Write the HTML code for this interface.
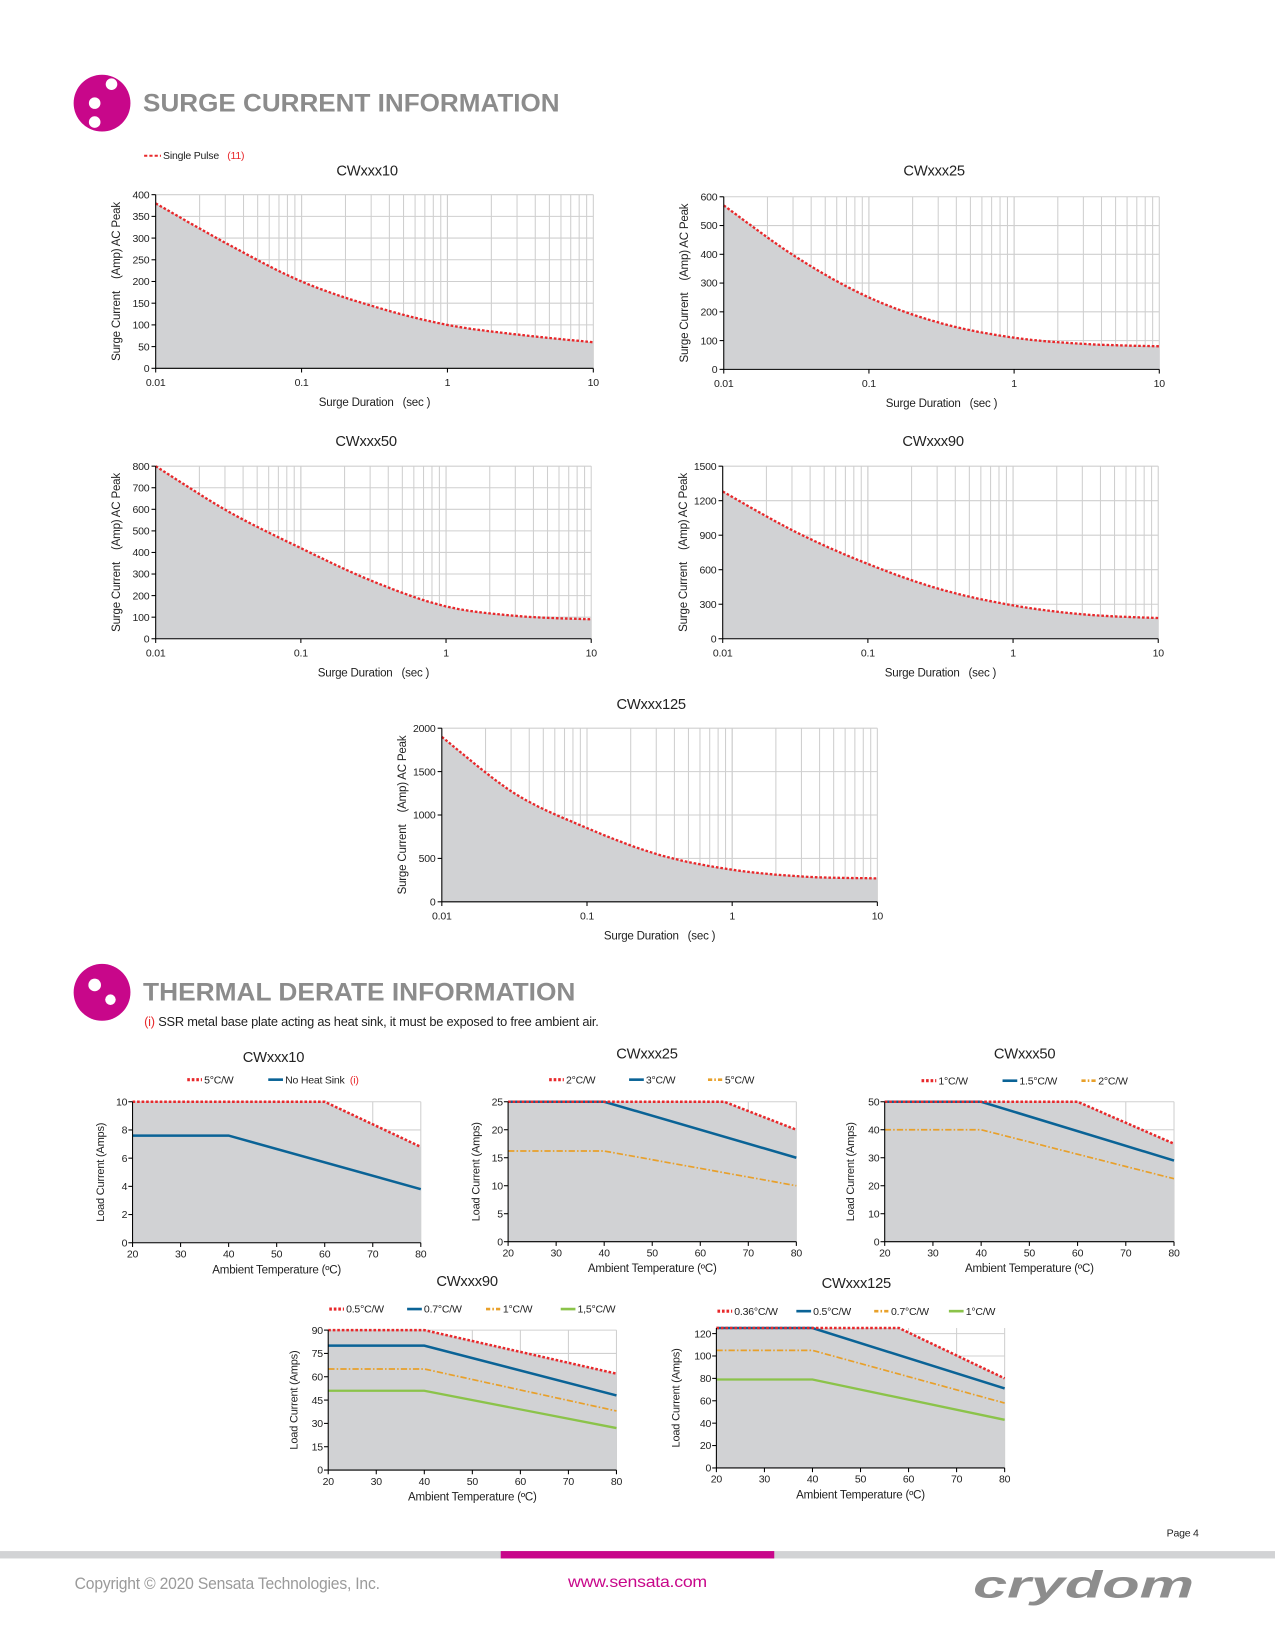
<!DOCTYPE html>
<html><head><meta charset="utf-8"><style>
html,body{margin:0;padding:0;background:#fff;}
svg{display:block;}
text{font-family:"Liberation Sans Narrow","Liberation Sans",sans-serif;letter-spacing:-0.2px;}
</style></head><body>
<svg id="s" width="1275" height="1650" viewBox="0 0 1212 1568" preserveAspectRatio="none" xmlns="http://www.w3.org/2000/svg">
<rect width="1212" height="1568" fill="#fff"/>
<circle cx="97" cy="98" r="27" fill="#c8078a"/>
<circle cx="106" cy="80" r="5.5" fill="#fff"/><circle cx="90" cy="98" r="5.5" fill="#fff"/><circle cx="90" cy="116" r="5.5" fill="#fff"/>
<text x="136" y="106" font-size="24" font-weight="bold" fill="#8c8c8c" style="font-family:'Liberation Sans',sans-serif;letter-spacing:0" textLength="396" lengthAdjust="spacingAndGlyphs">SURGE CURRENT INFORMATION</text>
<line x1="137" y1="148" x2="153" y2="148" stroke="#e8282b" stroke-width="2" stroke-dasharray="3,2"/>
<text x="155" y="151" font-size="10" fill="#222">Single Pulse</text><text x="216" y="151" font-size="10" fill="#e8282b">(11)</text>

<circle cx="97" cy="943" r="27" fill="#c8078a"/>
<circle cx="90" cy="936" r="6" fill="#fff"/><circle cx="105" cy="950" r="5" fill="#fff"/>
<text x="136" y="951" font-size="24" font-weight="bold" fill="#8c8c8c" style="font-family:'Liberation Sans',sans-serif;letter-spacing:0" textLength="411" lengthAdjust="spacingAndGlyphs">THERMAL DERATE INFORMATION</text>
<text x="137" y="975" font-size="12" fill="#222" textLength="432" lengthAdjust="spacingAndGlyphs"><tspan fill="#e8282b">(i)</tspan> SSR metal base plate acting as heat sink, it must be exposed to free ambient air.</text>

<text x="1109" y="1460" font-size="10" fill="#222">Page 4</text>
<rect x="0" y="1474" width="1212" height="7" fill="#d2d3d5"/>
<rect x="476" y="1474" width="260" height="7" fill="#c8078a"/>
<text x="71" y="1510" font-size="16" fill="#9a9a9a" textLength="290" lengthAdjust="spacingAndGlyphs">Copyright © 2020 Sensata Technologies, Inc.</text>
<text x="540" y="1508" font-size="15" fill="#c8078a" textLength="132" lengthAdjust="spacingAndGlyphs">www.sensata.com</text>
<text x="925" y="1518" font-size="36" font-weight="bold" font-style="italic" fill="#8d8d8d" style="font-family:'Liberation Sans',sans-serif;letter-spacing:0" textLength="210" lengthAdjust="spacingAndGlyphs">crydom</text>
<g id="g"></g>
</svg>
<script>
var out='';
function T(x,y,s,sz,anc,col,extra){out+='<text x="'+x+'" y="'+y+'" font-size="'+sz+'" fill="'+(col||'#222')+'"'+(anc?' text-anchor="'+anc+'"':'')+(extra||'')+'>'+s+'</text>';}
function cr(pts,n){var r=[];for(var i=0;i<pts.length-1;i++){var p0=pts[Math.max(i-1,0)],p1=pts[i],p2=pts[i+1],p3=pts[Math.min(i+2,pts.length-1)];for(var k=0;k<n;k++){var t=k/n,t2=t*t,t3=t2*t;var f=function(a,b,c,d){return 0.5*((2*b)+(-a+c)*t+(2*a-5*b+4*c-d)*t2+(-a+3*b-3*c+d)*t3);};r.push([f(p0[0],p1[0],p2[0],p3[0]),f(p0[1],p1[1],p2[1],p3[1])]);}}r.push(pts[pts.length-1]);return r;}
function surge(title,tx,ty,x0,y0,x1,y1,ymax,step,vals){
 T(tx,ty,title,14,'middle');
 var X=function(l){return x0+(l+2)/3*(x1-x0);},Y=function(v){return y1-v/ymax*(y1-y0);};
 for(var d=0;d<3;d++)for(var m=1;m<=10;m++){var xx=X(d-2+Math.log10(m));out+='<line x1="'+xx+'" y1="'+y0+'" x2="'+xx+'" y2="'+y1+'" stroke="#cfcfcf" stroke-width="1"/>';}
 for(var v=0;v<=ymax;v+=step){out+='<line x1="'+x0+'" y1="'+Y(v)+'" x2="'+x1+'" y2="'+Y(v)+'" stroke="#cfcfcf"/>';}
 var ls=[-2,-1.5,-1,-0.5,0,0.5,1];var pts=ls.map(function(l,i){return [X(l),Y(vals[i])];});
 var c=cr(pts,12);var s=c.map(function(p){return p[0].toFixed(1)+','+p[1].toFixed(1);}).join(' ');
 out+='<polygon points="'+x0+','+y1+' '+s+' '+x1+','+y1+'" fill="#d1d2d4"/>';
 out+='<polyline points="'+s+'" fill="none" stroke="#e8282b" stroke-width="2.2" stroke-dasharray="2.5,1.8"/>';
 out+='<line x1="'+x0+'" y1="'+y0+'" x2="'+x0+'" y2="'+y1+'" stroke="#000"/><line x1="'+x0+'" y1="'+y1+'" x2="'+x1+'" y2="'+y1+'" stroke="#000"/>';
 for(v=0;v<=ymax;v+=step){out+='<line x1="'+(x0-4)+'" y1="'+Y(v)+'" x2="'+x0+'" y2="'+Y(v)+'" stroke="#000"/>';T(x0-6,Y(v)+3.5,v,10,'end');}
 var lb=['0.01','0.1','1','10'];for(var i=0;i<4;i++){var xx=X(i-2);out+='<line x1="'+xx+'" y1="'+y1+'" x2="'+xx+'" y2="'+(y1+4)+'" stroke="#000"/>';T(xx,y1+17,lb[i],10,'middle');}
 T((x0+x1)/2,y1+36,'Surge Duration &#160;&#160;(sec )',11,'middle');
 var cy=(y0+y1)/2,lx=x0-34;out+='<text transform="translate('+lx+','+cy+') rotate(-90)" font-size="11" text-anchor="middle" fill="#222">Surge Current &#160;&#160;&#160;(Amp) AC Peak</text>';
}
surge('CWxxx10',349,167,148,185,564,350,400,50,[380,285,200,142,100,77,60]);
surge('CWxxx25',888,167,688,187,1102,351,600,100,[570,390,250,160,110,88,80]);
surge('CWxxx50',348,424,148,443,562,607,800,100,[800,590,420,265,150,105,90]);
surge('CWxxx90',887,424,687,443,1101,607,1500,300,[1280,930,650,430,290,210,180]);
surge('CWxxx125',619,674,420,692,834,857,2000,500,[1900,1250,850,540,370,290,270]);

var ST={r:['#e8282b',2.4,'2.5,1.8'],b:['#0a6396',2.4,''],o:['#e8a02a',1.6,'6,2,1.5,2'],g:['#8bc34a',2.2,'']};
function therm(title,tx,ty,x0,y0,x1,y1,ymax,tickmax,step,legy,leg,series,ylx){
 T(tx,ty,title,14,'middle');
 var X=function(t){return x0+(t-20)/60*(x1-x0);},Y=function(v){return y1-v/ymax*(y1-y0);};
 for(var t=20;t<=80;t+=10)out+='<line x1="'+X(t)+'" y1="'+y0+'" x2="'+X(t)+'" y2="'+y1+'" stroke="#d0d0d0"/>';
 for(var v=0;v<=tickmax;v+=step)out+='<line x1="'+x0+'" y1="'+Y(v)+'" x2="'+x1+'" y2="'+Y(v)+'" stroke="#d0d0d0"/>';
 var top=series[0][1];var s=top.map(function(p){return X(p[0])+','+Y(p[1]);}).join(' ');
 out+='<polygon points="'+x0+','+y1+' '+s+' '+x1+','+y1+'" fill="#d1d2d4"/>';
 for(var i=series.length-1;i>=0;i--){var st=ST[series[i][0]];var ps=series[i][1].map(function(p){return X(p[0])+','+Y(p[1]);}).join(' ');
  out+='<polyline points="'+ps+'" fill="none" stroke="'+st[0]+'" stroke-width="'+st[1]+'"'+(st[2]?' stroke-dasharray="'+st[2]+'"':'')+'/>';}
 out+='<line x1="'+x0+'" y1="'+y0+'" x2="'+x0+'" y2="'+y1+'" stroke="#000"/><line x1="'+x0+'" y1="'+y1+'" x2="'+x1+'" y2="'+y1+'" stroke="#000"/>';
 for(v=0;v<=tickmax;v+=step){out+='<line x1="'+(x0-4)+'" y1="'+Y(v)+'" x2="'+x0+'" y2="'+Y(v)+'" stroke="#000"/>';T(x0-5,Y(v)+3.5,v,10,'end');}
 for(t=20;t<=80;t+=10){out+='<line x1="'+X(t)+'" y1="'+y1+'" x2="'+X(t)+'" y2="'+(y1+4)+'" stroke="#000"/>';T(X(t),y1+14,t,10,'middle');}
 T((x0+x1)/2,y1+29,'Ambient Temperature (ºC)',11,'middle');
 out+='<text transform="translate('+ylx+','+((y0+y1)/2)+') rotate(-90)" font-size="10.5" text-anchor="middle" fill="#222">Load Current (Amps)</text>';
 leg.forEach(function(l){var st=ST[l[0]];out+='<line x1="'+l[1]+'" y1="'+legy+'" x2="'+(l[1]+14)+'" y2="'+legy+'" stroke="'+st[0]+'" stroke-width="'+(l[0]=='r'?3:2.5)+'"'+(l[0]=='r'?' stroke-dasharray="2.5,1.8"':(l[0]=='o'?' stroke-dasharray="4,2,1.5,2"':''))+'/>';T(l[1]+16,legy+3.5,l[2],10);});
}
therm('CWxxx10',260,1009,126,1047,400,1181,10,10,2,1026,[['r',178,'5°C/W'],['b',255,'No Heat Sink <tspan fill="#e8282b">&#160;(i)</tspan>']],
 [['r',[[20,10],[60,10],[80,6.8]]],['b',[[20,7.6],[40,7.6],[80,3.8]]]],99);
therm('CWxxx25',615,1006,483,1047,757,1180,25,25,5,1026,[['r',522,'2°C/W'],['b',598,'3°C/W'],['o',673,'5°C/W']],
 [['r',[[20,25],[65,25],[80,20]]],['b',[[20,25],[40,25],[80,15]]],['o',[[20,16.2],[40,16.2],[80,10]]]],456);
therm('CWxxx50',974,1006,841,1047,1116,1180,50,50,10,1027,[['r',876,'1°C/W'],['b',953,'1.5°C/W'],['o',1028,'2°C/W']],
 [['r',[[20,50],[60,50],[80,35]]],['b',[[20,50],[40,50],[80,29]]],['o',[[20,40],[40,40],[80,22.5]]]],812);
therm('CWxxx90',444,1222,312,1264,586,1397,90,90,15,1244,[['r',313,'0.5°C/W'],['b',387,'0.7°C/W'],['o',462,'1°C/W'],['g',533,'1,5°C/W']],
 [['r',[[20,90],[40,90],[80,62]]],['b',[[20,80],[40,80],[80,48]]],['o',[[20,65],[40,65],[80,38]]],['g',[[20,51],[40,51],[80,27]]]],283);
therm('CWxxx125',814,1224,681,1262,955,1395,125,120,20,1246,[['r',682,'0.36°C/W'],['b',757,'0.5°C/W'],['o',831,'0.7°C/W'],['g',902,'1°C/W']],
 [['r',[[20,125],[58,125],[80,80]]],['b',[[20,125],[40,125],[80,71]]],['o',[[20,105],[40,105],[80,58]]],['g',[[20,79],[40,79],[80,43]]]],646);
document.getElementById('g').innerHTML=out;
</script>
</body></html>
